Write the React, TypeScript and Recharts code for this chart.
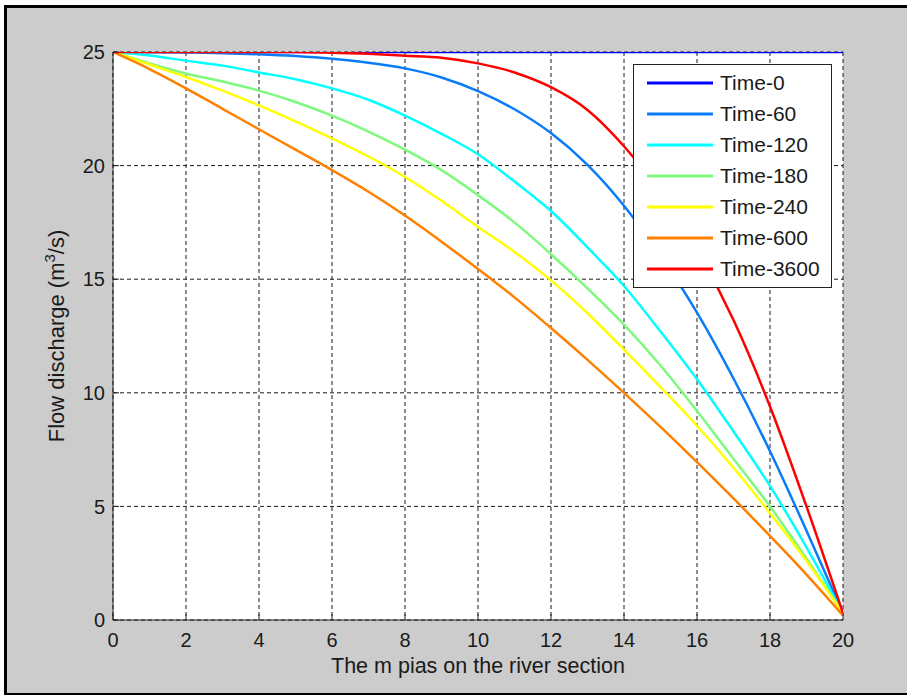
import React from 'react';
import { LineChart, Line, XAxis, YAxis, CartesianGrid } from 'recharts';

// positions along the river section (m pias)
const positions = [0, 1, 2, 3, 4, 5, 6, 7, 8, 9, 10, 11, 12, 13, 14, 15, 16, 17, 18, 19, 20];

const time0 = [25, 25, 25, 25, 25, 25, 25, 25, 25, 25, 25, 25, 25, 25, 25, 25, 25, 25, 25, 25, 25];
const time60 = [25, 25, 24.98, 24.95, 24.9, 24.82, 24.7, 24.53, 24.28, 23.88, 23.28, 22.48, 21.43, 20.03, 18.23, 16.03, 13.53, 10.63, 7.43, 3.93, 0.3];
const time120 = [25, 24.85, 24.62, 24.4, 24.1, 23.8, 23.4, 22.9, 22.2, 21.4, 20.5, 19.3, 18.0, 16.4, 14.7, 12.7, 10.6, 8.3, 5.9, 3.2, 0.3];
const time180 = [25, 24.5, 24.05, 23.7, 23.3, 22.8, 22.2, 21.5, 20.7, 19.8, 18.7, 17.5, 16.1, 14.6, 13.0, 11.2, 9.2, 7.1, 5.0, 2.7, 0.3];
const time240 = [25, 24.45, 23.9, 23.3, 22.65, 21.95, 21.2, 20.4, 19.5, 18.45, 17.3, 16.2, 14.95, 13.5, 11.9, 10.25, 8.55, 6.7, 4.7, 2.6, 0.3];
const time600 = [25, 24.25, 23.4, 22.5, 21.6, 20.7, 19.8, 18.85, 17.8, 16.65, 15.45, 14.2, 12.85, 11.45, 10.0, 8.5, 6.95, 5.35, 3.7, 2.0, 0.2];
const time3600 = [25, 25, 25, 25, 25, 25, 24.97, 24.92, 24.84, 24.75, 24.5, 24.1, 23.45, 22.45, 20.85, 18.8, 16.3, 13.2, 9.4, 5.0, 0.3];

const xTicks = [0, 2, 4, 6, 8, 10, 12, 14, 16, 18, 20];
const yTicks = [0, 5, 10, 15, 20, 25];

const series = [
    { key: 'Time-0', values: time0, color: '#0000ff' },
    { key: 'Time-60', values: time60, color: '#0a7cf7' },
    { key: 'Time-120', values: time120, color: '#00ffff' },
    { key: 'Time-180', values: time180, color: '#7dfa7d' },
    { key: 'Time-240', values: time240, color: '#ffff00' },
    { key: 'Time-600', values: time600, color: '#ff8000' },
    { key: 'Time-3600', values: time3600, color: '#ff0000' },
];

const data = positions.map((pos, i) => {
    const row: any = { pos };
    series.forEach(s => { row[s.key] = s.values[i]; });
    return row;
});

const font = '"Liberation Sans", Arial, Helvetica, sans-serif';
const ink = '#1a1a1a';

const tickStyle = { fontFamily: font, fontSize: 20, fill: ink };

const LegendBox = () => (
    <div style={{
        position: 'absolute', left: 633, top: 64,
        width: 199, height: 224, boxSizing: 'border-box', background: '#fff',
        border: '1.5px solid #222', paddingTop: 2, fontFamily: font, fontSize: 21, color: ink
    }}>
        {series.map(s => (
            <div key={s.key} style={{ display: 'flex', alignItems: 'center', height: 31 }}>
                <svg width={86} height={6} style={{ flex: 'none' }}>
                    <line x1={13} x2={79} y1={3} y2={3} stroke={s.color} strokeWidth={3} />
                </svg>
                <span>{s.key}</span>
            </div>
        ))}
    </div>
);

export default function App() {
    return (
        <div style={{ position: 'absolute', left: 0, top: 0, width: 907, height: 695, background: '#fff', overflow: 'hidden' }}>
            <div style={{
                position: 'absolute', left: 4, top: 5, width: 920, height: 685,
                background: '#cccccc', border: '3px solid #000'
            }} />
            <div style={{ position: 'absolute', left: 0, top: 0 }}>
                <LineChart width={907} height={695} data={data} margin={{ top: 52, right: 64, bottom: 0, left: 0 }}>
                    <CartesianGrid fill="#fff" stroke="#1a1a1a" strokeDasharray="4 3" />
                    <XAxis
                        dataKey="pos" type="number" domain={[0, 20]} ticks={xTicks} height={75}
                        stroke="#222" tickSize={-6} tickMargin={19} tick={tickStyle} allowDataOverflow
                        label={(p: any) => (
                            <text x={p.viewBox.x + p.viewBox.width / 2} y={673} textAnchor="middle"
                                fontFamily={font} fontSize={21.5} fill={ink}>
                                The m pias on the river section
                            </text>
                        )}
                    />
                    <XAxis xAxisId="top" orientation="top" type="number" domain={[0, 20]} ticks={xTicks}
                        height={0} stroke="#222" tickSize={-6} tick={false} allowDataOverflow
                        label={(p: any) => (
                            <text x={p.viewBox.x + p.viewBox.width / 2} y={35} textAnchor="middle"
                                fontFamily={font} fontSize={21.5} fill={ink}>
                                Graph of flow discharge along the river section
                            </text>
                        )}
                    />
                    <YAxis
                        type="number" domain={[0, 25]} ticks={yTicks} width={113}
                        stroke="#222" tickSize={-6} tickMargin={14} tick={tickStyle} allowDataOverflow
                        label={(p: any) => (
                            <text x={0} y={0} transform={`translate(64, ${p.viewBox.y + p.viewBox.height / 2}) rotate(-90)`}
                                textAnchor="middle" fontFamily={font} fontSize={22} fill={ink}>
                                Flow discharge (m<tspan dy={-9} fontSize={15}>3</tspan><tspan dy={9}>/s)</tspan>
                            </text>
                        )}
                    />
                    <YAxis yAxisId="right" orientation="right" type="number" domain={[0, 25]} ticks={yTicks}
                        width={0} stroke="#222" tickSize={-6} tick={false} allowDataOverflow />
                    {series.map(s => (
                        <Line key={s.key} dataKey={s.key} name={s.key} type="monotone" stroke={s.color}
                            strokeWidth={2.5} dot={false} isAnimationActive={false} />
                    ))}
                </LineChart>
            </div>
            <LegendBox />
        </div>
    );
}
